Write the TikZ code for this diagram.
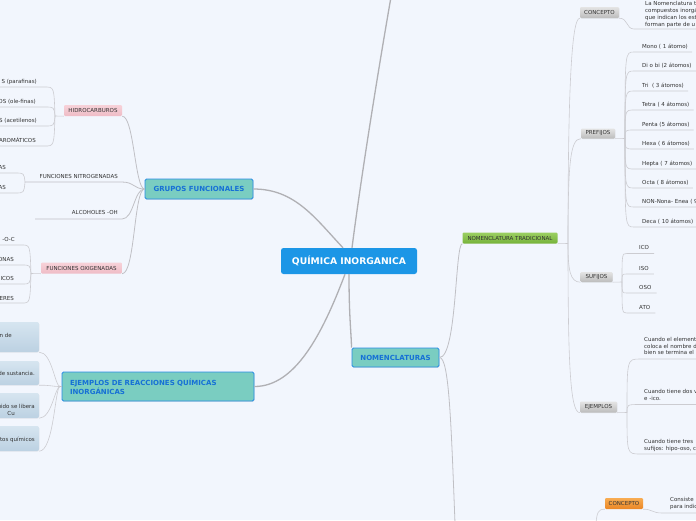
\documentclass[tikz,border=0pt]{standalone}
\usepackage{fontspec}
\setmainfont{DejaVu Sans}
\usetikzlibrary{calc,shadows}
\newcommand\fsm{\fontsize{5.5}{6.9}\selectfont}
\newcommand\fsb{\fontsize{7}{8.7}\selectfont\bfseries}
\newcommand\fsr{\fontsize{9.2}{10}\selectfont\bfseries}
\definecolor{bgc}{RGB}{242,246,253}
\definecolor{rootblue}{RGB}{28,150,230}
\definecolor{tealfill}{RGB}{122,205,193}
\definecolor{tealborder}{RGB}{38,139,230}
\definecolor{tealtext}{RGB}{22,112,214}
\definecolor{pinktop}{RGB}{247,210,217}
\definecolor{pinkbot}{RGB}{239,188,198}
\definecolor{darktext}{RGB}{50,50,50}
\definecolor{graytop}{RGB}{228,228,228}
\definecolor{graybot}{RGB}{188,188,188}
\definecolor{greentop}{RGB}{155,207,98}
\definecolor{greenbot}{RGB}{118,178,58}
\definecolor{orangetop}{RGB}{248,172,82}
\definecolor{orangebot}{RGB}{234,134,36}
\definecolor{bluetop}{RGB}{214,229,240}
\definecolor{bluebot}{RGB}{188,209,226}
\definecolor{mainline}{RGB}{176,176,180}
\definecolor{midline}{RGB}{192,192,197}
\definecolor{subline}{RGB}{204,204,209}
\tikzset{
  conn/.style={draw=subline, line width=0.6pt},
  gconn/.style={draw=midline, line width=0.8pt},
  mconn/.style={draw=mainline, line width=1.3pt},
  rootbox/.style={fill=rootblue, text=white, font=\fsr, rounded corners=2.5pt, inner sep=0pt, minimum width=136pt, minimum height=26pt},
  topic/.style={draw=tealborder, line width=0.9pt, fill=tealfill, text=tealtext, font=\fsb, rounded corners=1.5pt, inner sep=0pt, drop shadow={opacity=0.18, shadow xshift=0.5pt, shadow yshift=-0.8pt}},
  pinkbox/.style={top color=pinktop, bottom color=pinkbot, rounded corners=1.2pt, text=darktext, font=\fsm, inner sep=0pt},
  graybox/.style={top color=graytop, bottom color=graybot, rounded corners=1.2pt, text=darktext, font=\fsm, inner sep=0pt, drop shadow={opacity=0.15, shadow xshift=0.4pt, shadow yshift=-0.6pt}},
  greenbox/.style={top color=greentop, bottom color=greenbot, rounded corners=1.2pt, text=darktext, font=\fsm, inner sep=0pt},
  orangebox/.style={top color=orangetop, bottom color=orangebot, rounded corners=1.2pt, text=darktext, font=\fsm, inner sep=0pt},
  bluebox/.style={top color=bluetop, bottom color=bluebot, rounded corners=2pt, inner sep=0pt, drop shadow={opacity=0.12, shadow xshift=0.3pt, shadow yshift=-0.6pt}},
  ltext/.style={font=\fsm, text=darktext, inner sep=0pt},
  mleaf/.style={font=\fsm, text=darktext, inner sep=0pt, anchor=north west, align=left},
  rleaf/.style={font=\fsm, text=darktext, anchor=south west, inner xsep=0pt, inner ysep=2.6pt, text height=4.2pt, text depth=1.2pt, execute at begin node={\hspace*{8pt}}, execute at end node={\hspace*{4pt}}},
  sleaf/.style={font=\fsm, text=darktext, anchor=south west, inner xsep=0pt, inner ysep=2.6pt, text height=4.2pt, text depth=1.2pt, execute at begin node={\hspace*{12pt}}, execute at end node={\hspace*{5pt}}},
}
\begin{document}
\begin{tikzpicture}[x=1pt,y=-1pt]
\useasboundingbox (0,0) rectangle (696,520);
\fill[bgc] (0,0) rectangle (696,520);
\begin{scope}
\clip (0,0) rectangle (696,520);

% ---------- main nodes ----------
\node[rootbox] (root) at (349,261) {QUÍMICA INORGANICA};
\node[topic, minimum width=108pt, minimum height=20pt] (grupos) at (199,189) {GRUPOS FUNCIONALES};
\node[topic, minimum width=87pt, minimum height=19pt] (nomen) at (395.5,357.5) {NOMENCLATURAS};
\node[topic, minimum width=192pt, minimum height=29pt, text width=176pt, align=left] (ejem) at (158,386.5) {EJEMPLOS DE REACCIONES QUÍMICAS\\INORGÁNICAS};
\coordinate (topend) at (391,-3);
\coordinate (botend) at (455,523);

\draw[mconn] ($(root.north)+(3,0)$) .. controls (362,170) and (380,60) .. (topend);
\draw[mconn] (grupos.east) .. controls (295,189) and (315,218) .. ($(root.north)+(-6,0)$);
\draw[mconn] ($(root.south)+(-4,0)$) .. controls (322,335) and (295,386.5) .. (ejem.east);
\draw[mconn] (root.south) .. controls (349,315) and (351,330) .. (nomen.north west);

% ---------- GRUPOS FUNCIONALES ----------
\node[pinkbox, minimum width=58pt, minimum height=11pt] (hidro) at (93,110.5) {HIDROCARBUROS};
\node[pinkbox, minimum width=81pt, minimum height=11pt] (oxi) at (81.5,268) {FUNCIONES OXIGENADAS};
\node[ltext, anchor=base east] (nitro) at (118,178.7) {FUNCIONES NITROGENADAS};
\node[ltext, anchor=base east] (alco) at (118,214.7) {ALCOHOLES -OH};
\coordinate (nitroA) at (25,182);
\coordinate (nitroB) at (122,182);
\coordinate (alcoA) at (35,219);
\coordinate (alcoB) at (122,219);

\draw[gconn] (hidro.south east) .. controls (134,116) and (135,189) .. (grupos.west);
\draw[gconn] (nitroA) -- (nitroB) .. controls (134,182) and (134,189) .. (grupos.west);
\draw[gconn] (alcoA) -- (alcoB) .. controls (134,219) and (134,189) .. (grupos.west);
\draw[gconn] (oxi.south east) .. controls (135,273.5) and (134,189) .. (grupos.west);

% hidrocarburos children
\coordinate (hh) at (55,116);
\draw[conn] (hidro.south west) -- (hh);
\node[ltext, anchor=base east] (h1) at (37,83) {S (parafinas)};
\node[ltext, anchor=base east] (h2) at (36,103) {OS (ole-finas)};
\node[ltext, anchor=base east] (h3) at (37,122) {S (acetilenos)};
\node[ltext, anchor=base east] (h4) at (36,142) {AROMÁTICOS};
\coordinate (h1a) at (0,87);  \coordinate (h1b) at (45,87);
\coordinate (h2a) at (0,107); \coordinate (h2b) at (45,107);
\coordinate (h3a) at (0,126); \coordinate (h3b) at (45,126);
\coordinate (h4a) at (0,146); \coordinate (h4b) at (45,146);
\draw[conn] (hh) .. controls (54,87) .. (h1b) -- (h1a);
\draw[conn] (hh) .. controls (54,107) .. (h2b) -- (h2a);
\draw[conn] (hh) .. controls (54,126) .. (h3b) -- (h3a);
\draw[conn] (hh) .. controls (54,146) .. (h4b) -- (h4a);

% nitrogenadas children
\node[ltext, anchor=base east] (n1) at (6,169) {AS};
\node[ltext, anchor=base east] (n2) at (6,189) {AS};
\coordinate (n1a) at (0,173); \coordinate (n1b) at (15,173);
\coordinate (n2a) at (0,193); \coordinate (n2b) at (15,193);
\draw[conn] (nitroA) .. controls (24,173) .. (n1b) -- (n1a);
\draw[conn] (nitroA) .. controls (24,193) .. (n2b) -- (n2a);

% oxigenadas children
\coordinate (ho) at (31,273.5);
\draw[conn] (oxi.south west) -- (ho);
\node[ltext, anchor=base east] (o1) at (15,241) {-O-C};
\node[ltext, anchor=base east] (o2) at (14,261) {ONAS};
\node[ltext, anchor=base east] (o3) at (14,280) {ICOS};
\node[ltext, anchor=base east] (o4) at (14,300) {ERES};
\coordinate (o1a) at (0,245); \coordinate (o1b) at (22,245);
\coordinate (o2a) at (0,265); \coordinate (o2b) at (22,265);
\coordinate (o3a) at (0,284); \coordinate (o3b) at (22,284);
\coordinate (o4a) at (0,303); \coordinate (o4b) at (22,303);
\draw[conn] (ho) .. controls (30,245) .. (o1b) -- (o1a);
\draw[conn] (ho) .. controls (30,265) .. (o2b) -- (o2a);
\draw[conn] (ho) .. controls (30,284) .. (o3b) -- (o3a);
\draw[conn] (ho) .. controls (30,303) .. (o4b) -- (o4a);

% ---------- EJEMPLOS DE REACCIONES ----------
\node[bluebox, minimum width=47pt, minimum height=30pt] (r1) at (15.5,337) {};
\node[bluebox, minimum width=47pt, minimum height=24pt] (r2) at (15.5,373) {};
\node[bluebox, minimum width=47pt, minimum height=25pt] (r3) at (15.5,405.5) {};
\node[bluebox, minimum width=47pt, minimum height=25pt] (r4) at (15.5,438.5) {};
\node[ltext, anchor=base east] (r1t) at (12,337) {n de};
\node[ltext, anchor=base east] (r2t) at (35,375) {de sustancia.};
\node[ltext, anchor=base east] (r3t) at (35,408) {uido se libera};
\node[ltext, anchor=base east] (r3u) at (15,415) {Cu};
\node[ltext, anchor=base east] (r4t) at (35,441) {tos químicos};
\coordinate (he) at (60,386.5);
\draw[conn] (r1.south east) .. controls (52,352) and (55,386.5) .. (he);
\draw[conn] (r2.south east) .. controls (50,385) and (52,386.5) .. (he);
\draw[conn] (r3.south east) .. controls (52,418) and (55,386.5) .. (he);
\draw[conn] (r4.south east) .. controls (54,451) and (55,386.5) .. (he);
\draw[gconn] (he) -- (ejem.west);

% ---------- NOMENCLATURAS ----------
\node[greenbox, minimum width=95pt, minimum height=11pt] (nt) at (510,238) {NOMENCLATURA TRADICIONAL};
\draw[gconn] (nomen.east) .. controls (457,357.5) and (455,243.5) .. (nt.south west);
\draw[gconn] (nomen.east) .. controls (449,357.5) and (451,420) .. (botend);

\coordinate (hn) at (568,243.5);
\draw[conn] (nt.south east) -- (hn);
\node[graybox, minimum width=39pt, minimum height=11pt] (concepto) at (599.5,12.5) {CONCEPTO};
\node[graybox, minimum width=34pt, minimum height=10pt] (prefijos) at (598,133.5) {PREFIJOS};
\node[graybox, minimum width=32pt, minimum height=10pt] (sufijos) at (596.5,277) {SUFIJOS};
\node[graybox, minimum width=37pt, minimum height=11pt] (ejnt) at (598.5,407) {EJEMPLOS};
\draw[conn] (hn) .. controls (568,100) and (571,18) .. (concepto.south west);
\draw[conn] (hn) .. controls (568,165) and (570,138.5) .. (prefijos.south west);
\draw[conn] (hn) .. controls (568,270) and (570,282) .. (sufijos.south west);
\draw[conn] (hn) .. controls (568,362) and (570,412.5) .. (ejnt.south west);

% concepto leaf
\node[mleaf] (ctl) at (645,1.1) {La Nomenclatura t\\compuestos inorgá\\que indican los est\\forman parte de u};
\coordinate (ctla) at (634,29);
\coordinate (ctlb) at (698,29);
\draw[conn] (concepto.south east) .. controls (628,18) and (626,29) .. (ctla) -- (ctlb);

% prefijos leaves
\coordinate (hp) at (625,138.5);
\draw[conn] (prefijos.south east) -- (hp);
\node[rleaf] (p1) at (634,52) {Mono ( 1 átomo)};
\node[rleaf] (p2) at (634,71) {Di o bi (2 átomos)};
\node[rleaf] (p3) at (634,91) {Tri\ \ ( 3 átomos)};
\node[rleaf] (p4) at (634,110) {Tetra ( 4 átomos)};
\node[rleaf] (p5) at (634,130) {Penta (5 átomos)};
\node[rleaf] (p6) at (634,149) {Hexa ( 6 átomos)};
\node[rleaf] (p7) at (634,169) {Hepta ( 7 átomos)};
\node[rleaf] (p8) at (634,188) {Octa ( 8 átomos)};
\node[rleaf] (p9) at (634,207) {NON-Nona- Enea ( 9 átomos)};
\node[rleaf] (p10) at (634,227) {Deca ( 10 átomos)};
\foreach \n/\y in {p1/52,p2/71,p3/91,p4/110,p5/130,p6/149,p7/169,p8/188,p9/207,p10/227}{
  \draw[conn] (hp) .. controls (625,\y) .. (\n.south west) -- (\n.south east);
}

% sufijos leaves
\coordinate (hs) at (622,282);
\draw[conn] (sufijos.south east) -- (hs);
\node[sleaf] (s1) at (627,253.5) {ICO};
\node[sleaf] (s2) at (627,274) {ISO};
\node[sleaf] (s3) at (627,293) {OSO};
\node[sleaf] (s4) at (627,313) {ATO};
\foreach \n/\y in {s1/253.5,s2/274,s3/293,s4/313}{
  \draw[conn] (hs) .. controls (622,\y) .. (\n.south west) -- (\n.south east);
}

% ejemplos leaves
\coordinate (hj) at (627,412.5);
\draw[conn] (ejnt.south east) -- (hj);
\node[mleaf] (e1) at (644,336.8) {Cuando el element\\coloca el nombre d\\bien se termina el};
\node[mleaf] (e2) at (644,389.3) {Cuando tiene dos v\\e -ico.};
\node[mleaf] (e3) at (644,438.8) {Cuando tiene tres \\sufijos: hipo-oso, c};
\coordinate (e1a) at (640,359); \coordinate (e1b) at (698,359);
\coordinate (e2a) at (640,404.5); \coordinate (e2b) at (698,404.5);
\coordinate (e3a) at (640,454); \coordinate (e3b) at (698,454);
\draw[conn] (hj) .. controls (627,359) .. (e1a) -- (e1b);
\draw[conn] (hj) .. controls (627,404.5) .. (e2a) -- (e2b);
\draw[conn] (hj) .. controls (627,454) .. (e3a) -- (e3b);

% bottom concepto
\node[orangebox, minimum width=38pt, minimum height=11pt] (oc) at (624,503.5) {CONCEPTO};
\node[mleaf] (ocl) at (670,496.9) {Consiste\\para indic};
\coordinate (ocla) at (662,513);
\coordinate (oclb) at (698,513);
\coordinate (ocdown) at (596,523);
\draw[conn] (oc.south east) .. controls (652,509) and (652,513) .. (ocla) -- (oclb);
\draw[conn] (oc.south west) .. controls (598,509) and (597,513) .. (ocdown);

\end{scope}
\end{tikzpicture}
\end{document}
